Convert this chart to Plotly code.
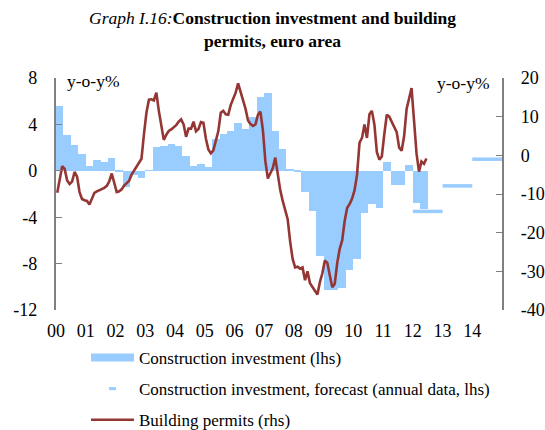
import plotly.graph_objects as go

# ---------------- data ----------------
# Construction investment, y-o-y %, quarterly, 2000Q1 .. 2012Q2 (lhs)
ci_start_year = 2000
construction_investment = [
    5.6, 3.1, 2.25, 1.45,      # 2000
    0.45, 0.95, 0.75, 1.1,     # 2001
    -0.05, -1.4, -0.4, -0.6,   # 2002
    0.05, 2.05, 2.1, 2.3,      # 2003
    2.15, 1.3, 0.45, 0.6,      # 2004
    0.3, 2.75, 3.2, 3.45,      # 2005
    4.15, 3.6, 4.6, 6.4,       # 2006
    6.7, 3.45, 1.85, 0.15,     # 2007
    -0.05, -1.8, -3.45, -7.35, # 2008
    -10.3, -10.3, -10.1, -8.55,# 2009
    -7.6, -3.6, -2.9, -3.2,    # 2010
    0.8, -1.2, -1.2, 0.5,      # 2011
    -2.75, -3.3,               # 2012
]

# Construction investment forecast, annual data (lhs)
forecast_years = [2012, 2013, 2014]
forecast_values = [-3.5, -1.3, 1.0]

# Building permits, y-o-y %, monthly, 2000-01 .. 2012-06 (rhs)
bp_start_year = 2000
building_permits = [
    -9.7, -6.0, -2.8, -3.5, -6.5, -7.4, -6.8, -4.3, -5.5, -9.5, -11.3, -11.6,      # 2000
    -11.8, -12.7, -11.0, -9.7, -9.3, -9.0, -8.8, -8.4, -7.9, -6.7, -4.7, -7.0,     # 2001
    -9.5, -9.3, -8.8, -7.8, -7.2, -6.6, -5.0, -4.0, -3.0, -1.8, -0.9, 5.5,         # 2002
    11.0, 14.4, 14.5, 14.2, 16.2, 11.5, 7.5, 4.0, 5.3, 6.3, 6.7, 7.2,              # 2003
    7.8, 8.7, 9.3, 8.0, 4.8, 6.9, 6.9, 8.7, 6.2, 6.8, 8.6, 8.4,                    # 2004
    4.3, 1.5, 0.5, 1.3, 3.5, 6.2, 11.0, 11.5, 10.6, 10.5, 13.0, 14.5,              # 2005
    16.2, 18.6, 16.5, 14.4, 12.0, 9.0, 8.1, 7.6, 8.0, 10.5, 11.3, 6.5,             # 2006
    -1.5, -6.0, -4.6, -3.3, -0.6, -5.4, -9.0, -11.8, -14.0, -16.5, -22.3, -26.8,   # 2007
    -29.0, -28.8, -29.3, -29.0, -32.3, -30.0, -33.1, -34.0, -35.1, -36.0, -32.8, -30.5,  # 2008
    -27.2, -27.8, -31.0, -34.1, -33.2, -27.8, -24.2, -22.0, -17.0, -13.6, -12.6, -11.2,  # 2009
    -9.0, -5.0, 3.3, 4.5, 8.0, 4.5, 10.6, 11.5, 8.0, 0.8, -1.1, -0.3,              # 2010
    5.5, 10.5, 10.0, 8.7, 7.6, 6.0, 2.0, 1.2, 5.0, 12.0, 14.7, 17.4,               # 2011
    9.0, 0.5, -4.2, -1.6, -2.2, -0.8,                                              # 2012
]

year_ticks = list(range(2000, 2016))
year_labels = ["00", "01", "02", "03", "04", "05", "06", "07",
               "08", "09", "10", "11", "12", "13", "14"]
lhs_ticks = [-12, -8, -4, 0, 4, 8]
rhs_ticks = [-40, -30, -20, -10, 0, 10, 20]

# ---------------- styling ----------------
BAR_COLOR = "#99CCFF"
LINE_COLOR = "#943634"
AXIS_GREY = "#808080"
FONT = "Liberation Serif, Times New Roman, serif"
ML, MR, MT, MB = 56, 43, 78, 120
W, H = 545, 430
PW, PH = W - ML - MR, H - MT - MB
PAD = "\u00a0\u00a0\u00a0"

# positions derived from period indices (decimal years)
ci_x = [ci_start_year + (i + 0.5) / 4 for i in range(len(construction_investment))]
bp_x = [bp_start_year + (i + 0.5) / 12 for i in range(len(building_permits))]
fc_x, fc_y = [], []
for yr, v in zip(forecast_years, forecast_values):
    fc_x += [yr, yr + 1, None]
    fc_y += [v, v, None]

fig = go.Figure()

fig.add_trace(go.Bar(
    x=ci_x, y=construction_investment, width=0.25,
    marker=dict(color=BAR_COLOR, line=dict(width=0)),
    name="Construction investment (lhs)", showlegend=False,
    yaxis="y", xaxis="x",
))
fig.add_trace(go.Scatter(
    x=fc_x, y=fc_y, mode="lines",
    line=dict(color=BAR_COLOR, width=3.5),
    showlegend=False, yaxis="y", xaxis="x",
))
fig.add_trace(go.Scatter(
    x=bp_x, y=building_permits, mode="lines",
    line=dict(color=LINE_COLOR, width=2.6),
    showlegend=False, yaxis="y2", xaxis="x",
))

# legend entries
fig.add_trace(go.Scatter(
    x=[None], y=[None], mode="lines",
    line=dict(color=BAR_COLOR, width=8),
    name="Construction investment (lhs)", legendgroup="a",
))
fig.add_trace(go.Scatter(
    x=[None], y=[None], mode="markers",
    marker=dict(symbol="line-ew", size=5, line=dict(color=BAR_COLOR, width=3)),
    name="Construction investment, forecast (annual data, lhs)", legendgroup="b",
))
fig.add_trace(go.Scatter(
    x=[None], y=[None], mode="lines",
    line=dict(color=LINE_COLOR, width=2.6),
    name="Building permits (rhs)", legendgroup="c",
))

fig.update_layout(
    width=W, height=H,
    margin=dict(l=ML, r=MR, t=MT, b=MB, autoexpand=False),
    paper_bgcolor="white", plot_bgcolor="white",
    font=dict(family=FONT, size=18, color="black"),
    bargap=0,
    xaxis=dict(
        range=[2000, 2015], tickmode="array",
        tickvals=year_ticks[:-1], ticktext=year_labels,
        showline=False, ticks="outside", ticklen=4, tickcolor="rgba(0,0,0,0)",
        showgrid=False, zeroline=False,
        tickfont=dict(size=18),
    ),
    xaxis2=dict(
        range=[2000, 2015], overlaying="x", anchor="free", position=0.6,
        side="top", tickmode="array", tickvals=year_ticks,
        showticklabels=False, ticks="outside", ticklen=5, tickcolor="black",
        tickwidth=1, showline=True, linecolor="black", linewidth=1.2,
        showgrid=False, zeroline=False,
    ),
    yaxis=dict(
        range=[-12, 8], tickmode="array", tickvals=lhs_ticks,
        ticktext=[str(v) + PAD for v in lhs_ticks],
        ticks="inside", ticklen=6, tickcolor=AXIS_GREY,
        showline=True, linecolor=AXIS_GREY, linewidth=1.5,
        showgrid=False, zeroline=False,
    ),
    yaxis2=dict(
        range=[-40, 20], tickmode="array", tickvals=rhs_ticks,
        ticktext=[PAD + str(v) for v in rhs_ticks],
        overlaying="y", side="right",
        ticks="inside", ticklen=6, tickcolor=AXIS_GREY,
        showline=True, linecolor=AXIS_GREY, linewidth=1.5,
        showgrid=False, zeroline=False,
    ),
    legend=dict(
        x=(86 - ML) / PW, y=(MT + PH - 340) / PH, xanchor="left", yanchor="top",
        font=dict(family=FONT, size=17, color="black"),
        tracegroupgap=6, itemwidth=43, bgcolor="rgba(0,0,0,0)",
    ),
    annotations=[
        dict(text="<i>Graph I.16:</i><b>Construction investment and building</b><br><b>permits, euro area</b>",
             xref="paper", yref="paper", x=(272.5 - ML) / PW, y=1 + (MT - 6) / PH,
             xanchor="center", yanchor="top", showarrow=False, align="center",
             font=dict(family=FONT, size=17.5, color="black")),
        dict(text="y-o-y%", xref="paper", yref="paper", x=(65 - ML) / PW, y=1 - 3 / PH,
             xanchor="left", yanchor="middle", showarrow=False,
             font=dict(family=FONT, size=17.5)),
        dict(text="y-o-y%", xref="paper", yref="paper", x=(491 - ML) / PW, y=1 - 5 / PH,
             xanchor="right", yanchor="middle", showarrow=False,
             font=dict(family=FONT, size=17.5)),
    ],
)

fig.write_html("out.html",
               config={"displayModeBar": False},
               post_script="document.body.style.margin='0px';document.body.style.padding='0px';")
